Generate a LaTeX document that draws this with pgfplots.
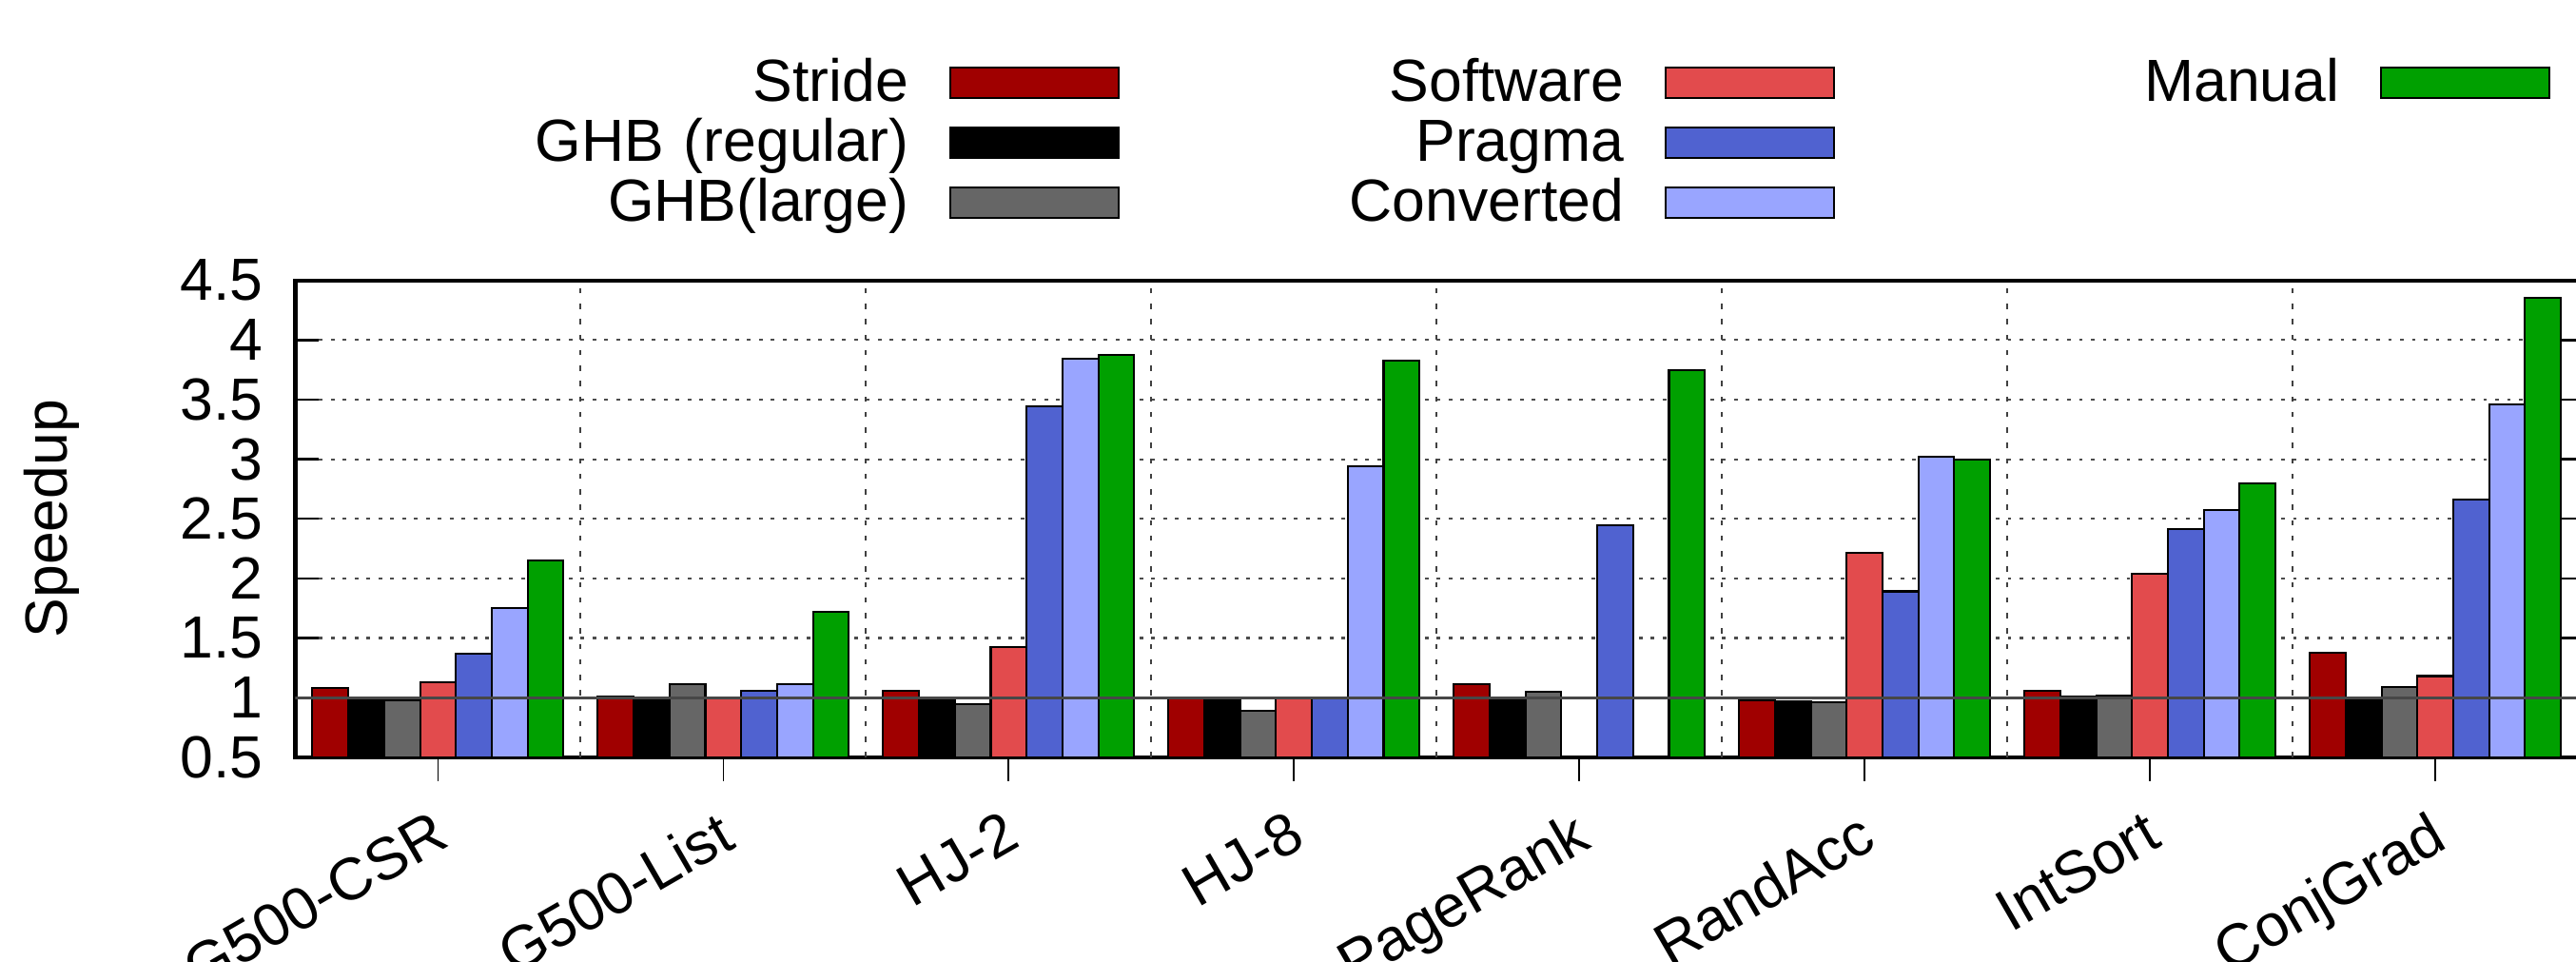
\documentclass[border=0pt]{standalone}
\usepackage{fontspec}
\setmainfont{Liberation Sans}
\usepackage{pgfplots}
\pgfplotsset{compat=1.18}
\usepackage{pgfplotstable}

\definecolor{cStride}{HTML}{A00000}
\definecolor{cGHBlarge}{HTML}{666666}
\definecolor{cSoft}{HTML}{E24B4D}
\definecolor{cPragma}{HTML}{5062D0}
\definecolor{cConv}{HTML}{99A5FF}
\definecolor{cManual}{HTML}{00A000}

\pgfplotstableread{
x stride ghbreg ghblarge soft pragma conv manual
0 1.080 0.980 0.976 1.130 1.367 1.751 2.153
1 1.008 0.990 1.110 1.001 1.055 1.113 1.723
2 1.055 0.990 0.948 1.427 3.447 3.846 3.872
3 1.000 1.000 0.888 1.000 1.000 2.943 3.826
4 1.115 0.980 1.050 nan   2.444 nan   3.749
5 0.981 0.970 0.964 2.216 1.891 3.020 2.997
6 1.055 1.013 1.016 2.039 2.412 2.572 2.794
7 1.375 0.990 1.087 1.181 2.660 3.459 4.356
}\data

\begin{document}
\fontsize{15}{18}\selectfont
\begin{tikzpicture}
\begin{axis}[
  at={(0,0)}, anchor=south west,
  scale only axis, width=575.9pt, height=120.3pt,
  xmin=-0.5, xmax=7.5, ymin=0.5, ymax=4.5,
  xtick={0,1,2,3,4,5,6,7},
  xticklabels={G500-CSR,G500-List,HJ-2,HJ-8,PageRank,RandAcc,IntSort,ConjGrad},
  ytick={0.5,1,1.5,2,2.5,3,3.5,4,4.5},
  yticklabels={0.5,1,1.5,2,2.5,3,3.5,4,4.5},
  /pgf/number format/assume math mode=true,
  ticklabel style={font=\fontsize{15}{18}\selectfont},
  xticklabel style={rotate=30, anchor=north east},
  yticklabel style={xshift=-3pt},
  xtick pos=left, xtick align=outside,
  ytick align=inside,
  major tick length=6pt,
  xtick style={line width=0.4pt, black},
  ytick style={line width=0.6pt, black},
  axis line style={line width=1pt},
  ymajorgrids,
  y grid style={black!70, line width=0.5pt, dash pattern=on 0.9pt off 2.1pt},
  extra x ticks={0.5,1.5,2.5,3.5,4.5,5.5,6.5},
  extra x tick labels={},
  extra x tick style={grid=major, major tick length=0pt, grid style={black!75, line width=0.5pt, dash pattern=on 1.3pt off 2.6pt}},
  ylabel={Speedup},
  ylabel style={at={(axis description cs:-0.1068,0.5)}, anchor=center, font=\fontsize{15}{18}\selectfont},
  legend image code/.code={\draw[#1] (0pt,-2.65pt) rectangle (42.5pt,5.05pt);},
  legend columns=3,
  legend plot pos=right,
  legend style={draw=none, fill=none, inner sep=0pt, outer sep=0pt,
    at={(axis description cs:0.1037,1.466)}, anchor=north west,
    font=\fontsize{15}{18}\selectfont,
    nodes={inner sep=0pt, text width=95pt, align=right, text height=11pt, text depth=4pt},
    row sep=0.1pt,
    /tikz/every odd column/.append style={column sep=10.3pt},
    /tikz/every even column/.append style={column sep=32.2pt}},
]
\addplot[ybar, bar width=0.1257, bar shift=-0.3771, fill=cStride, draw=black, line width=0.5pt, forget plot] table[x=x,y=stride]{\data};
\addplot[ybar, bar width=0.1257, bar shift=-0.2514, fill=black, draw=black, line width=0.5pt, forget plot] table[x=x,y=ghbreg]{\data};
\addplot[ybar, bar width=0.1257, bar shift=-0.1257, fill=cGHBlarge, draw=black, line width=0.5pt, forget plot] table[x=x,y=ghblarge]{\data};
\addplot[ybar, bar width=0.1257, bar shift=0, fill=cSoft, draw=black, line width=0.5pt, forget plot] table[x=x,y=soft]{\data};
\addplot[ybar, bar width=0.1257, bar shift=0.1257, fill=cPragma, draw=black, line width=0.5pt, forget plot] table[x=x,y=pragma]{\data};
\addplot[ybar, bar width=0.1257, bar shift=0.2514, fill=cConv, draw=black, line width=0.5pt, forget plot] table[x=x,y=conv]{\data};
\addplot[ybar, bar width=0.1257, bar shift=0.3771, fill=cManual, draw=black, line width=0.5pt, forget plot] table[x=x,y=manual]{\data};
\addplot[black!72, line width=0.8pt, forget plot] coordinates {(-0.5,1) (7.5,1)};

\addlegendimage{fill=cStride, draw=black, line width=0.5pt}
\addlegendentry{Stride}
\addlegendimage{fill=cSoft, draw=black, line width=0.5pt}
\addlegendentry{Software}
\addlegendimage{fill=cManual, draw=black, line width=0.5pt}
\addlegendentry{Manual}
\addlegendimage{fill=black, draw=black, line width=0.5pt}
\addlegendentry{GHB (regular)}
\addlegendimage{fill=cPragma, draw=black, line width=0.5pt}
\addlegendentry{Pragma}
\addlegendimage{empty legend}
\addlegendentry{}
\addlegendimage{fill=cGHBlarge, draw=black, line width=0.5pt}
\addlegendentry{GHB(large)}
\addlegendimage{fill=cConv, draw=black, line width=0.5pt}
\addlegendentry{Converted}
\end{axis}
\pgfresetboundingbox
\path[use as bounding box] (-74.5pt,-51.4pt) rectangle (575.4pt,191pt);
\end{tikzpicture}
\end{document}
